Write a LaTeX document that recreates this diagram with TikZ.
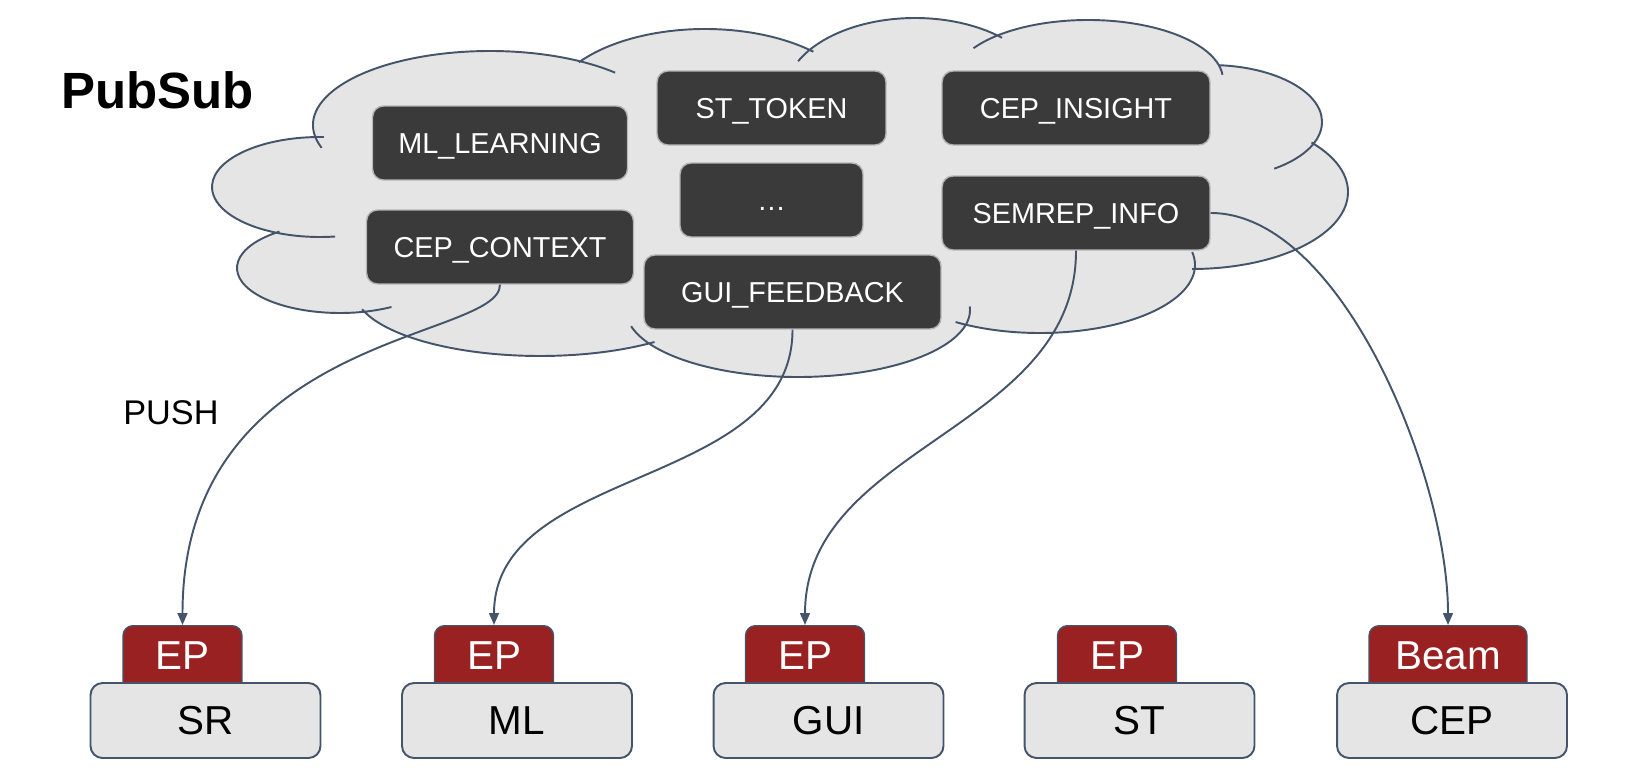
\documentclass[tikz,border=0pt]{standalone}
\usepackage{fontspec}
\setmainfont{Liberation Sans}
\usetikzlibrary{arrows.meta}

\definecolor{slate}{HTML}{44546A}
\definecolor{cloudgray}{HTML}{E5E5E5}
\definecolor{topicfill}{HTML}{3A3A3A}
\definecolor{topicedge}{HTML}{B4B4B4}
\definecolor{epred}{HTML}{9A2121}

\begin{document}
\begin{tikzpicture}[
  x=0.02cm, y=-0.02cm,
  puff/.style={fill=cloudgray},
  lobe/.style={draw=slate, line width=1.1pt},
  topic/.style={
    rectangle, rounded corners=0.22cm,
    draw=topicedge, line width=0.8pt, fill=topicfill,
    text=white, font=\fontsize{16.4}{20}\selectfont,
    minimum height=1.48cm, inner sep=0pt,
    text height=11.7pt, text depth=0pt
  },
  comp/.style={
    rectangle, rounded corners=0.24cm,
    draw=slate, line width=1.1pt, fill=cloudgray,
    minimum width=4.6cm, minimum height=1.5cm, inner sep=0pt,
    font=\fontsize{23}{27}\selectfont,
    text height=16.5pt, text depth=0pt
  },
  tab/.style={
    rectangle, rounded corners=0.2cm, anchor=north,
    draw=slate, line width=0.8pt, fill=epred,
    text=white, font=\fontsize{23}{27}\selectfont,
    minimum width=2.38cm, inner sep=0pt,
    text height=0.87cm, text depth=0.57cm
  },
  flow/.style={
    -{Triangle[length=6.8pt,width=5.6pt]},
    draw=slate, line width=1.1pt
  },
  heading/.style={anchor=base west, inner sep=0pt}
]
\useasboundingbox (0,0) rectangle (1635,776);

% ─── Cloud ──────────────────────────────────────────────────
\fill[puff] (320,140) -- (580,65) -- (809,54) -- (997,40) -- (1217,69)
  -- (1308,146) -- (1192,264) -- (963,321) -- (649,339) -- (366,308)
  -- (280,230) -- cycle;
\fill[puff]
  (490,125) ellipse[x radius=177, y radius=74]
  (705,110) ellipse[x radius=156, y radius=81]
  (915,95) ellipse[x radius=130, y radius=77]
  (1088,80) ellipse[x radius=135, y radius=60]
  (1210,122) ellipse[x radius=112, y radius=57]
  (1192,192) ellipse[x radius=156, y radius=77]
  (1040,265) ellipse[x radius=155, y radius=68]
  (798,310) ellipse[x radius=172, y radius=67]
  (540,290) ellipse[x radius=186, y radius=66]
  (340,268) ellipse[x radius=103, y radius=45]
  (320,187) ellipse[x radius=108, y radius=50];

\draw[lobe]
  ([shift={(162:177 and 74)}]490,125) arc[start angle=162, end angle=315, x radius=177, y radius=74]
  ([shift={(216:156 and 81)}]705,110) arc[start angle=216, end angle=314, x radius=156, y radius=81]
  ([shift={(206:130 and 77)}]915,95) arc[start angle=206, end angle=312, x radius=130, y radius=77]
  ([shift={(212:135 and 60)}]1088,80) arc[start angle=212, end angle=355, x radius=135, y radius=60]
  ([shift={(275:112 and 57)}]1210,122) arc[start angle=275, end angle=415, x radius=112, y radius=57]
  ([shift={(320:156 and 77)}]1192,192) arc[start angle=320, end angle=450, x radius=156, y radius=77]
  ([shift={(123:155 and 68)}]1040,265) arc[start angle=123, end angle=-11, x radius=155, y radius=68]
  ([shift={(166:172 and 67)}]798,310) arc[start angle=166, end angle=-3, x radius=172, y radius=67]
  ([shift={(163:186 and 66)}]540,290) arc[start angle=163, end angle=52, x radius=186, y radius=66]
  ([shift={(234:103 and 45)}]340,268) arc[start angle=234, end angle=60, x radius=103, y radius=45]
  ([shift={(272:108 and 50)}]320,187) arc[start angle=272, end angle=82, x radius=108, y radius=50];

\node[heading, font=\fontsize{29}{34}\selectfont\bfseries] (pubsub) at (61,108.3) {PubSub};

% ─── Topics ─────────────────────────────────────────────────
\node[topic, minimum width=5.10cm] (mllearn) at (500,143)   {ML\_LEARNING};
\node[topic, minimum width=5.34cm] (cepctx)  at (500,247)   {CEP\_CONTEXT};
\node[topic, minimum width=4.58cm] (sttoken) at (771.5,108) {ST\_TOKEN};
\node[topic, minimum width=3.66cm] (dots)    at (771.5,200) {\ldots};
\node[topic, minimum width=5.94cm] (guifb)   at (792.5,292) {GUI\_FEEDBACK};
\node[topic, minimum width=5.36cm] (cepins)  at (1076,108)  {CEP\_INSIGHT};
\node[topic, minimum width=5.36cm] (semrep)  at (1076,213)  {SEMREP\_INFO};

% ─── Components ─────────────────────────────────────────────
\node[tab] (srep)    at (182.5,625) {EP};
\node[tab] (mlep)    at (494,625)   {EP};
\node[tab] (guiep)   at (805,625)   {EP};
\node[tab] (step-tab) at (1117,625) {EP};
\node[tab, minimum width=3.16cm] (cepbeam) at (1448,625) {Beam};

\node[comp] (sr)  at (205.5,720.5)  {SR};
\node[comp] (ml)  at (517,720.5)    {ML};
\node[comp] (gui) at (828.5,720.5)  {GUI};
\node[comp] (st)  at (1139.5,720.5) {ST};
\node[comp] (cep) at (1452,720.5)   {CEP};

% ─── Push subscriptions ─────────────────────────────────────
\draw[flow] (cepctx.south) .. controls +(0,56) and +(0,-293) .. (srep.north);
\draw[flow] (guifb.south) .. controls +(0,160) and +(0,-160) .. (mlep.north);
\draw[flow] (semrep.south) .. controls +(0,180) and +(0,-180) .. (guiep.north);
\draw[flow] (semrep.east) .. controls +(130,0) and +(0,-150) .. (cepbeam.north);

\node[heading, font=\fontsize{19.5}{23}\selectfont] (push) at (123,424) {PUSH};

\end{tikzpicture}
\end{document}
